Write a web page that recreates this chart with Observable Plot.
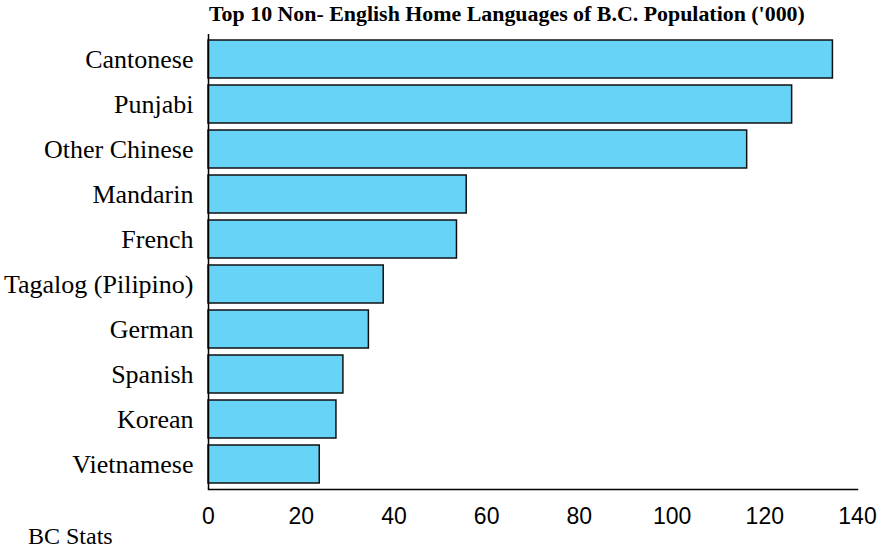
<!DOCTYPE html>
<html>
<head>
<meta charset="utf-8">
<script src="https://cdn.jsdelivr.net/npm/d3@7"></script>
<script src="https://cdn.jsdelivr.net/npm/@observablehq/plot@0.6"></script>
<style>
  html, body { margin: 0; padding: 0; background: #fff; }
  #wrap { position: relative; width: 880px; height: 548px; overflow: hidden; }
  #title { height: 30px; padding-left: 209px; box-sizing: border-box; padding-top: 3px; line-height: 1;
    font-family: "Liberation Serif", serif; font-weight: bold; font-size: 21.9px; color: #000; white-space: nowrap; }
  #caption { position: absolute; left: 28px; top: 524px; line-height: 1; font-family: "Liberation Serif", serif; font-size: 24px; color: #000; }
</style>
</head>
<body>
<div id="wrap">
  <div id="title">Top 10 Non- English Home Languages of B.C. Population ('000)</div>
  <div id="chart"></div>
  <div id="caption">BC Stats</div>
</div>
<script>
const languages = ["Cantonese", "Punjabi", "Other Chinese", "Mandarin", "French",
  "Tagalog (Pilipino)", "German", "Spanish", "Korean", "Vietnamese"];
const population = [134.7, 125.9, 116.2, 55.7, 53.6, 37.8, 34.6, 29.1, 27.6, 24.0];
const xTicks = [0, 20, 40, 60, 80, 100, 120, 140];

const data = languages.map((l, i) => ({language: l, value: population[i]}));

const chart = Plot.plot({
  width: 880,
  height: 518,
  marginLeft: 208,
  marginRight: 23,
  marginTop: 4,
  marginBottom: 59,
  x: {domain: [0, 140], ticks: xTicks, label: null},
  y: {domain: languages, paddingInner: 0.155, paddingOuter: 0.06, label: null},
  marks: [
    Plot.barX(data, {x: "value", y: "language", fill: "#66D3F7", stroke: "#111", strokeWidth: 1.5}),
    Plot.ruleX([0], {stroke: "#000", strokeWidth: 1.5}),
    Plot.frame({anchor: "bottom", stroke: "#000", strokeWidth: 1.5}),
    Plot.axisY({tickSize: 0, tickPadding: 15, fontSize: 26, fontFamily: "Liberation Serif", label: null}),
    Plot.axisX({ticks: xTicks, tickSize: 0, tickPadding: 18, fontSize: 23, fontFamily: "'Liberation Sans', Arial", label: null})
  ],
  style: {background: "#fff", color: "#000"}
});
document.getElementById("chart").appendChild(chart);
</script>
</body>
</html>
